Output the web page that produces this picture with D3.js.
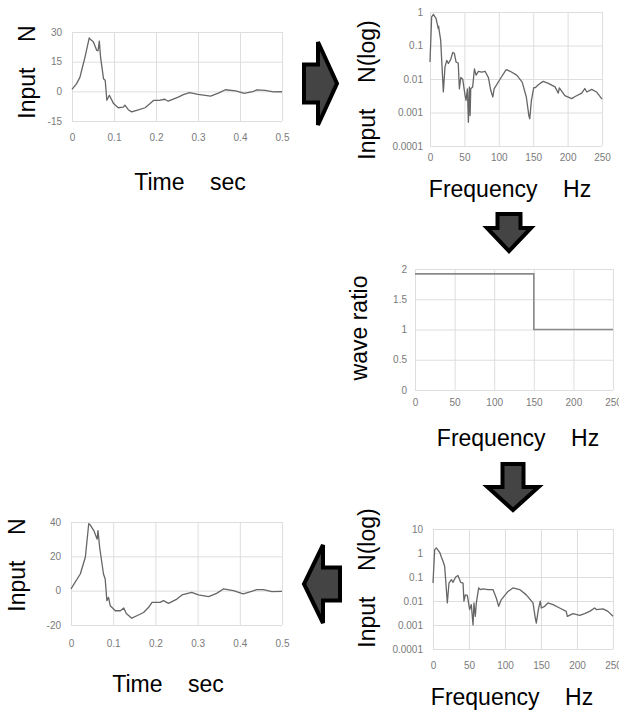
<!DOCTYPE html>
<html lang="en">
<head>
<meta charset="UTF-8">
<script src="https://d3js.org/d3.v7.min.js"></script>
<style>
  body { margin: 0; background: #fff; }
  svg { font-family: Arial, 'Liberation Sans', sans-serif; }
  .grid line { stroke: #dedede; stroke-width: 1; }
  .grid text { fill: #7a7a7a; font-size: 10px; font-family: 'Liberation Sans Narrow', 'Arial Narrow', Arial, sans-serif; }
  .title { font-size: 23px; fill: #000; white-space: pre; }
  .trace { fill: none; stroke: #666; stroke-width: 1.3; stroke-linejoin: round; }
  .step { fill: none; stroke: #8a8a8a; stroke-width: 1.6; }
  .arrow { fill: #444; stroke: #000; stroke-width: 4; stroke-linejoin: miter; }
</style>
</head>
<body>
<script>
// input force, time domain (sec, N)
const inTime = [0, 0.011, 0.019, 0.025, 0.031, 0.041, 0.043, 0.051, 0.059, 0.062, 0.065, 0.068, 0.075, 0.079,
  0.083, 0.089, 0.099, 0.110, 0.122, 0.126, 0.134, 0.142, 0.154, 0.174, 0.186, 0.194, 0.210, 0.221, 0.229,
  0.253, 0.265, 0.280, 0.300, 0.330, 0.350, 0.365, 0.390, 0.410, 0.430, 0.440, 0.460, 0.480, 0.500];
const inForce = [1, 3.9, 7.2, 12.3, 17.3, 27, 26.5, 25, 20.7, 20.5, 25.4, 17.3, 6.4, 5.6,
  -4.5, -2, -6.2, -8.3, -8, -7, -9.3, -10.4, -9.6, -8.3, -6.2, -4.6, -4.5, -4, -5,
  -2.9, -1.7, -0.7, -1.5, -2.4, -0.8, 0.8, 0.2, -1, -0.2, 0.7, 0.5, -0.3, -0.2];

// input spectrum (Hz, N)
const inFreq = [0, 2.4, 4.9, 8.7, 11, 12, 12.5, 13.6, 15.5, 19.4, 21.8, 24.3, 26.7, 30, 33, 35.4, 37.9, 41,
  42.7, 44.7, 47.6, 51, 52.4, 54.4, 55.8, 57.3, 58.3, 59.2, 62, 64.6, 67, 70.4, 75.2, 80, 84.9, 88.3,
  91.3, 93.2, 102, 110.7, 116.5, 126, 134, 140, 143.7, 145, 147.4, 150.8, 153, 156.6, 160, 164.7, 172,
  181.7, 186.5, 188, 196, 206, 211, 220.5, 225, 228, 235, 242, 250];
const inAmp = [0.032, 0.72, 0.85, 0.65, 0.4, 0.32, 0.38, 0.26, 0.145, 0.0041, 0.023, 0.036, 0.029, 0.038,
  0.062, 0.058, 0.032, 0.030, 0.0051, 0.011, 0.0098, 0.0032, 0.0023, 0.0051, 0.00051, 0.0058, 0.00081,
  0.0051, 0.0058, 0.020, 0.013, 0.017, 0.016, 0.017, 0.011, 0.0046, 0.0029, 0.0051, 0.010, 0.019, 0.017,
  0.013, 0.0081, 0.0029, 0.00081, 0.00065, 0.0023, 0.0055, 0.0055, 0.0065, 0.0074, 0.0085, 0.0074,
  0.0058, 0.0038, 0.0054, 0.0032, 0.0026, 0.0030, 0.0038, 0.0052, 0.0041, 0.0049, 0.0041, 0.0025];

// wave ratio (Hz, ratio)
const ratioFreq = [0, 150, 250];
const ratioVal = [1.92, 1.0, 1.0];

// corrected spectrum (Hz, N)
const outFreq = [0, 2.3, 4.6, 9.3, 11.6, 13.9, 16.2, 19.9, 22.2, 25.5, 27.8, 31.5, 34.7, 38.4, 41.7, 43,
  44.9, 47.7, 50.9, 53.2, 55.6, 56.9, 58.8, 60.2, 63.4, 65.7, 69.4, 76.4, 83.3, 88, 91.2, 94.9, 104.2,
  111, 120.4, 129.6, 138.9, 141.7, 143.5, 146.3, 149, 150.5, 155, 159.7, 166.7, 175.9, 185, 186.6,
  194.4, 203.7, 210.6, 217.6, 224.5, 226.9, 236, 243, 250];
const outAmp = [0.056, 1.38, 1.62, 1.07, 0.68, 0.45, 0.28, 0.0083, 0.056, 0.078, 0.060, 0.1, 0.115, 0.060,
  0.056, 0.0098, 0.018, 0.017, 0.0044, 0.0071, 0.001, 0.0083, 0.0023, 0.0083, 0.035, 0.030, 0.032,
  0.030, 0.030, 0.013, 0.006, 0.0115, 0.025, 0.035, 0.030, 0.018, 0.0083, 0.0023, 0.0012, 0.0044,
  0.0098, 0.0051, 0.006, 0.0083, 0.0071, 0.0051, 0.0037, 0.0023, 0.003, 0.0025, 0.003, 0.0037,
  0.0051, 0.0044, 0.0047, 0.0037, 0.0023];

// corrected force, time domain (sec, N)
const outTime = [0, 0.022, 0.034, 0.042, 0.045, 0.054, 0.062, 0.064, 0.068, 0.077, 0.081, 0.085, 0.089,
  0.093, 0.105, 0.117, 0.125, 0.131, 0.144, 0.156, 0.172, 0.184, 0.192, 0.211, 0.219, 0.231, 0.251,
  0.263, 0.286, 0.302, 0.326, 0.345, 0.361, 0.385, 0.408, 0.428, 0.440, 0.456, 0.476, 0.500];
const outForce = [1, 9.7, 19.5, 39, 38.5, 35, 30, 35, 25, 9.7, 6.8, -5.8, -3.9,
  -8.8, -11.7, -11.7, -10.1, -13.3, -16, -14.6, -12.7, -9.7, -6.8, -6.8, -5.8, -7.4, -4.9,
  -2.5, -1, -2.5, -3.5, -1.6, 1, 0, -1.8, -0.4, 0.6, 0.6, -0.6, -0.4];

const timeTicks = [0, 0.1, 0.2, 0.3, 0.4, 0.5];
const freqTicks = [0, 50, 100, 150, 200, 250];

const svg = d3.select("body").append("svg")
  .attr("width", 619)
  .attr("height", 711);

function drawPanel(p) {
  const x = d3.scaleLinear().domain(p.xDomain).range([p.left, p.right]);
  const y = (p.log ? d3.scaleLog() : d3.scaleLinear()).domain(p.yDomain).range([p.bottom, p.top]);
  const g = svg.append("g");

  g.append("g").attr("class", "grid")
    .attr("transform", `translate(0,${p.bottom})`)
    .call(d3.axisBottom(x).tickValues(p.xTicks).tickFormat(d => String(d))
      .tickSizeInner(-(p.bottom - p.top)).tickSizeOuter(0).tickPadding(p.xPad))
    .call(a => a.select(".domain").remove());

  g.append("g").attr("class", "grid")
    .attr("transform", `translate(${p.left},0)`)
    .call(d3.axisLeft(y).tickValues(p.yTicks).tickFormat(d => String(d))
      .tickSizeInner(-(p.right - p.left)).tickSizeOuter(0).tickPadding(p.yPad))
    .call(a => a.select(".domain").remove());

  const pts = d3.zip(p.xs, p.ys);
  g.append("path")
    .attr("class", p.step ? "step" : "trace")
    .attr("d", d3.line().x(d => x(d[0])).y(d => y(d[1]))
      .curve(p.step ? d3.curveStepAfter : d3.curveLinear)(pts));

  g.append("text").attr("class", "title")
    .attr("text-anchor", "middle")
    .attr("transform", `translate(${p.yTitleX},${p.yTitleY}) rotate(-90)`)
    .text(p.yTitle);

  g.append("text").attr("class", "title")
    .attr("text-anchor", "middle")
    .attr("x", p.xTitleX).attr("y", p.xTitleY)
    .text(p.xTitle);
}

drawPanel({ left: 72, right: 282, top: 32, bottom: 121, xDomain: [0, 0.5], yDomain: [-15, 30],
  xTicks: timeTicks, yTicks: [-15, 0, 15, 30], xPad: 12.5, yPad: 10,
  xs: inTime, ys: inForce, yTitle: "Input    N", yTitleX: 35, yTitleY: 72,
  xTitle: "Time    sec", xTitleX: 190, xTitleY: 190 });

drawPanel({ left: 430, right: 602, top: 12, bottom: 146, xDomain: [0, 250], yDomain: [1e-4, 1], log: true,
  xTicks: freqTicks, yTicks: [1e-4, 1e-3, 1e-2, 0.1, 1], xPad: 7.5, yPad: 7,
  xs: inFreq, ys: inAmp, yTitle: "Input    N(log)", yTitleX: 375, yTitleY: 90,
  xTitle: "Frequency    Hz", xTitleX: 510, xTitleY: 197 });

drawPanel({ left: 415, right: 613, top: 269, bottom: 390, xDomain: [0, 250], yDomain: [0, 2],
  xTicks: freqTicks, yTicks: [0, 0.5, 1, 1.5, 2], xPad: 8.5, yPad: 8, step: true,
  xs: ratioFreq, ys: ratioVal, yTitle: "wave ratio", yTitleX: 367, yTitleY: 328,
  xTitle: "Frequency    Hz", xTitleX: 518, xTitleY: 446 });

drawPanel({ left: 433, right: 613, top: 529, bottom: 649, xDomain: [0, 250], yDomain: [1e-4, 10], log: true,
  xTicks: freqTicks, yTicks: [1e-4, 1e-3, 1e-2, 0.1, 1, 10], xPad: 12.5, yPad: 10,
  xs: outFreq, ys: outAmp, yTitle: "Input    N(log)", yTitleX: 375, yTitleY: 578,
  xTitle: "Frequency    Hz", xTitleX: 512, xTitleY: 705 });

drawPanel({ left: 71, right: 282, top: 522, bottom: 625, xDomain: [0, 0.5], yDomain: [-20, 40],
  xTicks: timeTicks, yTicks: [-20, 0, 20, 40], xPad: 14.5, yPad: 10,
  xs: outTime, ys: outForce, yTitle: "Input    N", yTitleX: 25, yTitleY: 565,
  xTitle: "Time    sec", xTitleX: 168, xTitleY: 692 });

// block arrows between the panels (outer size incl. outline)
function arrow(cx, cy, len, shaftW, headW, headLen, angle) {
  const s = 2;
  const L = len - 2 * s, sw = shaftW - 2 * s, hw = headW - 2 * s, hl = headLen - s;
  const pts = [[-L / 2, -sw / 2], [L / 2 - hl, -sw / 2], [L / 2 - hl, -hw / 2], [L / 2, 0],
    [L / 2 - hl, hw / 2], [L / 2 - hl, sw / 2], [-L / 2, sw / 2]];
  svg.append("polygon").attr("class", "arrow")
    .attr("transform", `translate(${cx},${cy}) rotate(${angle})`)
    .attr("points", pts.map(d => d.join(",")).join(" "));
}

arrow(320.5, 83.5, 37, 42, 87, 21, 0);
arrow(509, 232.5, 41, 27, 48, 25, 90);
arrow(513, 487, 50, 25, 55, 25, 90);
arrow(322, 584, 40, 37, 82, 21, 180);
</script>
</body>
</html>
